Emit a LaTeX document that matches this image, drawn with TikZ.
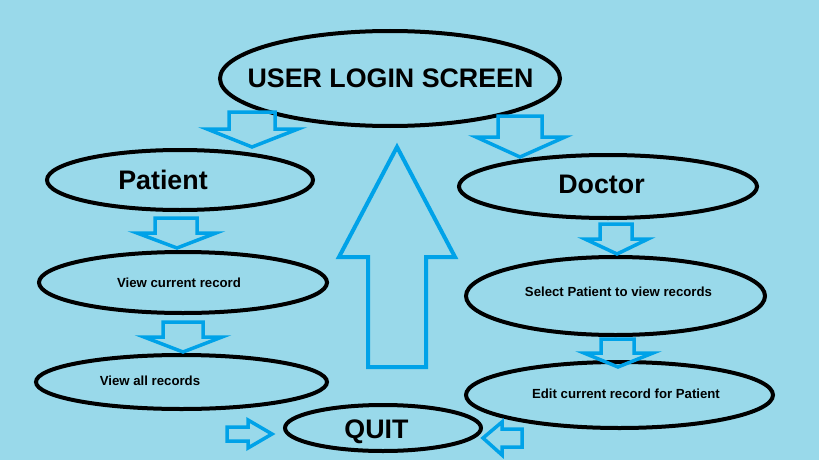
\documentclass[tikz,border=0pt]{standalone}
\usepackage{fontspec}
\setmainfont{Liberation Sans}
\usetikzlibrary{shapes.geometric}
\definecolor{bgblue}{RGB}{153,217,234}
\definecolor{arrblue}{RGB}{0,162,232}
\tikzset{
  oval/.style={ellipse, draw=black, line width=4pt, inner sep=0pt, fill=bgblue},
  bigtxt/.style={anchor=base, inner sep=0pt, font=\fontsize{26.8}{28}\selectfont\bfseries},
  smalltxt/.style={anchor=base, inner sep=0pt, font=\fontsize{13.2}{15}\selectfont\bfseries},
  blockarrow/.style={draw=arrblue, line width=3.5pt, line join=miter}
}
\begin{document}
\begin{tikzpicture}[x=1pt,y=-1pt]
\fill[bgblue] (0,0) rectangle (819,460);
\useasboundingbox (0,0) rectangle (819,460);

% ellipses
\node[oval, minimum width=340pt, minimum height=95pt] (login) at (390,78.5) {};
\node[oval, minimum width=266pt, minimum height=60pt] (patient) at (180,180) {};
\node[oval, minimum width=288pt, minimum height=61pt] (viewcur) at (183,282.5) {};
\node[oval, minimum width=291pt, minimum height=54pt] (viewall) at (181.5,382) {};
\node[oval, minimum width=298pt, minimum height=63pt] (doctor) at (608,186.5) {};
\node[oval, minimum width=299pt, minimum height=78pt] (select) at (615.5,296) {};
\node[oval, minimum width=307pt, minimum height=66pt] (edit) at (619.5,395) {};
\node[oval, minimum width=196pt, minimum height=46pt] (quit) at (383,428) {};

% texts
\node[bigtxt] (loginT) at (390.5,87) {USER LOGIN SCREEN};
\node[bigtxt] (patientT) at (163,189) {Patient};
\node[bigtxt] (doctorT) at (601.5,193) {Doctor};
\node[bigtxt] (quitT) at (376.5,438) {QUIT};
\node[smalltxt] (viewcurT) at (179,287) {View current record};
\node[smalltxt] (viewallT) at (150,385) {View all records};
\node[smalltxt] (selectT) at (618.5,296) {Select Patient to view records};
\node[smalltxt] (editT) at (626,398) {Edit current record for Patient};

% down block arrows
\draw[blockarrow] (229,112) -- (275,112) -- (275,129) -- (298,129) -- (252,147) -- (207,129) -- (229,129) -- cycle;
\draw[blockarrow] (498,116) -- (542,116) -- (542,137) -- (565,137) -- (520,157) -- (476,137) -- (498,137) -- cycle;
\draw[blockarrow] (155,218) -- (197,218) -- (197,233) -- (216,233) -- (177,248) -- (137,233) -- (155,233) -- cycle;
\draw[blockarrow] (163,322) -- (203,322) -- (203,337) -- (222,337) -- (183,352) -- (144,337) -- (163,337) -- cycle;
\draw[blockarrow] (600,224) -- (632,224) -- (632,239) -- (648,239) -- (617,254) -- (585,239) -- (600,239) -- cycle;
\draw[blockarrow] (601,339) -- (634,339) -- (634,353) -- (653,353) -- (618,367) -- (584,353) -- (601,353) -- cycle;

% up arrow
\draw[blockarrow, line width=4pt] (368,367) -- (426,367) -- (426,257) -- (455,257) -- (397,147) -- (339,257) -- (368,257) -- cycle;

% side arrows to quit
\draw[blockarrow] (227,427) -- (248,427) -- (248,420) -- (272,434) -- (248,448) -- (248,441) -- (227,441) -- cycle;
\draw[blockarrow] (522,429) -- (502,429) -- (502,422) -- (483,438) -- (502,455) -- (502,447) -- (522,447) -- cycle;
\end{tikzpicture}
\end{document}
